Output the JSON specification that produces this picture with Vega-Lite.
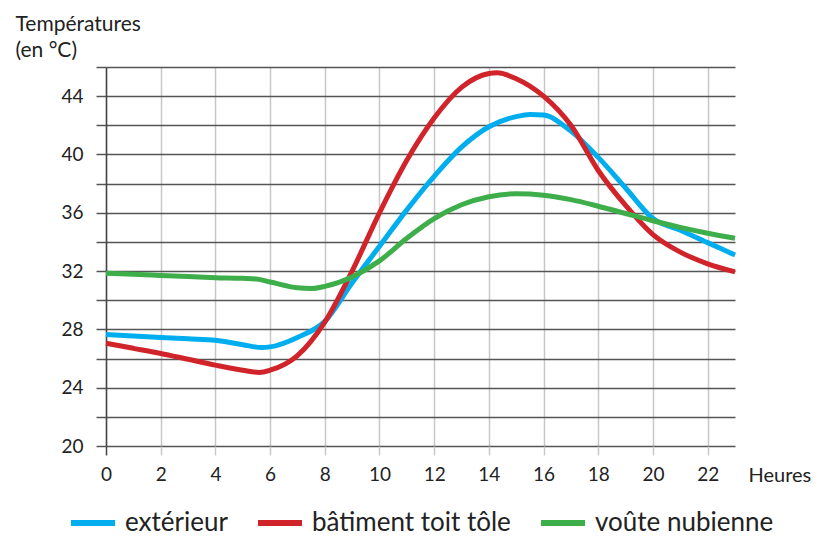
{
  "$schema": "https://vega.github.io/schema/vega-lite/v6.json",
  "width": 629,
  "height": 379,
  "autosize": {"type": "none"},
  "padding": {"left": 106, "top": 67, "right": 84, "bottom": 90},
  "background": "white",
  "config": {
    "view": {"stroke": null},
    "font": "Lato",
    "axis": {"labelFont": "Lato", "titleFont": "Lato", "labelColor": "#222", "titleColor": "#222"}
  },
  "data": {
    "values": [
      {"h": 0, "t": 27.65, "s": "extérieur"},
      {"h": 1, "t": 27.55, "s": "extérieur"},
      {"h": 2, "t": 27.45, "s": "extérieur"},
      {"h": 3, "t": 27.35, "s": "extérieur"},
      {"h": 4, "t": 27.25, "s": "extérieur"},
      {"h": 5, "t": 26.95, "s": "extérieur"},
      {"h": 5.7, "t": 26.75, "s": "extérieur"},
      {"h": 6, "t": 26.8, "s": "extérieur"},
      {"h": 7, "t": 27.45, "s": "extérieur"},
      {"h": 8, "t": 28.55, "s": "extérieur"},
      {"h": 9, "t": 31.2, "s": "extérieur"},
      {"h": 10, "t": 33.7, "s": "extérieur"},
      {"h": 11, "t": 36.2, "s": "extérieur"},
      {"h": 12, "t": 38.5, "s": "extérieur"},
      {"h": 13, "t": 40.5, "s": "extérieur"},
      {"h": 14, "t": 41.9, "s": "extérieur"},
      {"h": 15, "t": 42.6, "s": "extérieur"},
      {"h": 15.5, "t": 42.75, "s": "extérieur"},
      {"h": 16, "t": 42.7, "s": "extérieur"},
      {"h": 17, "t": 41.6, "s": "extérieur"},
      {"h": 18, "t": 39.8, "s": "extérieur"},
      {"h": 19, "t": 37.7, "s": "extérieur"},
      {"h": 20, "t": 35.6, "s": "extérieur"},
      {"h": 21, "t": 34.8, "s": "extérieur"},
      {"h": 22, "t": 33.95, "s": "extérieur"},
      {"h": 23, "t": 33.1, "s": "extérieur"},
      {"h": 0, "t": 27.05, "s": "bâtiment toit tôle"},
      {"h": 1, "t": 26.7, "s": "bâtiment toit tôle"},
      {"h": 2, "t": 26.35, "s": "bâtiment toit tôle"},
      {"h": 3, "t": 25.95, "s": "bâtiment toit tôle"},
      {"h": 4, "t": 25.55, "s": "bâtiment toit tôle"},
      {"h": 5, "t": 25.2, "s": "bâtiment toit tôle"},
      {"h": 5.6, "t": 25.05, "s": "bâtiment toit tôle"},
      {"h": 6, "t": 25.2, "s": "bâtiment toit tôle"},
      {"h": 7, "t": 26.2, "s": "bâtiment toit tôle"},
      {"h": 8, "t": 28.5, "s": "bâtiment toit tôle"},
      {"h": 9, "t": 32.0, "s": "bâtiment toit tôle"},
      {"h": 10, "t": 36.0, "s": "bâtiment toit tôle"},
      {"h": 11, "t": 39.6, "s": "bâtiment toit tôle"},
      {"h": 12, "t": 42.5, "s": "bâtiment toit tôle"},
      {"h": 13, "t": 44.6, "s": "bâtiment toit tôle"},
      {"h": 14, "t": 45.55, "s": "bâtiment toit tôle"},
      {"h": 14.3, "t": 45.6, "s": "bâtiment toit tôle"},
      {"h": 15, "t": 45.2, "s": "bâtiment toit tôle"},
      {"h": 16, "t": 44.0, "s": "bâtiment toit tôle"},
      {"h": 17, "t": 42.0, "s": "bâtiment toit tôle"},
      {"h": 18, "t": 38.9, "s": "bâtiment toit tôle"},
      {"h": 19, "t": 36.5, "s": "bâtiment toit tôle"},
      {"h": 20, "t": 34.5, "s": "bâtiment toit tôle"},
      {"h": 21, "t": 33.3, "s": "bâtiment toit tôle"},
      {"h": 22, "t": 32.5, "s": "bâtiment toit tôle"},
      {"h": 23, "t": 31.95, "s": "bâtiment toit tôle"},
      {"h": 0, "t": 31.85, "s": "voûte nubienne"},
      {"h": 1, "t": 31.78, "s": "voûte nubienne"},
      {"h": 2, "t": 31.7, "s": "voûte nubienne"},
      {"h": 3, "t": 31.62, "s": "voûte nubienne"},
      {"h": 4, "t": 31.55, "s": "voûte nubienne"},
      {"h": 5, "t": 31.5, "s": "voûte nubienne"},
      {"h": 5.5, "t": 31.45, "s": "voûte nubienne"},
      {"h": 6, "t": 31.25, "s": "voûte nubienne"},
      {"h": 7, "t": 30.85, "s": "voûte nubienne"},
      {"h": 7.5, "t": 30.8, "s": "voûte nubienne"},
      {"h": 8, "t": 30.95, "s": "voûte nubienne"},
      {"h": 9, "t": 31.6, "s": "voûte nubienne"},
      {"h": 10, "t": 32.7, "s": "voûte nubienne"},
      {"h": 11, "t": 34.25, "s": "voûte nubienne"},
      {"h": 12, "t": 35.6, "s": "voûte nubienne"},
      {"h": 13, "t": 36.55, "s": "voûte nubienne"},
      {"h": 14, "t": 37.1, "s": "voûte nubienne"},
      {"h": 15, "t": 37.3, "s": "voûte nubienne"},
      {"h": 16, "t": 37.2, "s": "voûte nubienne"},
      {"h": 17, "t": 36.9, "s": "voûte nubienne"},
      {"h": 18, "t": 36.45, "s": "voûte nubienne"},
      {"h": 19, "t": 35.95, "s": "voûte nubienne"},
      {"h": 20, "t": 35.45, "s": "voûte nubienne"},
      {"h": 21, "t": 35.0, "s": "voûte nubienne"},
      {"h": 22, "t": 34.6, "s": "voûte nubienne"},
      {"h": 23, "t": 34.25, "s": "voûte nubienne"}
    ]
  },
  "mark": {"type": "line", "interpolate": "monotone", "strokeWidth": 5, "strokeCap": "butt"},
  "encoding": {
    "x": {
      "field": "h", "type": "quantitative",
      "scale": {"domain": [0, 23], "nice": false, "zero": false},
      "axis": {
        "values": [0, 2, 4, 6, 8, 10, 12, 14, 16, 18, 20, 22],
        "grid": true, "gridColor": "#c8c8c8", "gridWidth": 1.5,
        "domain": false,
        "tickSize": 9, "tickWidth": 1.5,
        "tickColor": {"condition": {"test": "datum.value == 0", "value": "#444"}, "value": "#c8c8c8"},
        "labelFontSize": 19, "labelPadding": 10, "labelFlush": false,
        "title": "Heures", "titleFontSize": 20, "titleFontWeight": "normal",
        "titleAnchor": "start", "titleAlign": "left", "titleBaseline": "middle",
        "titleX": 642, "titleY": 29
      }
    },
    "y": {
      "field": "t", "type": "quantitative",
      "scale": {"domain": [20, 46], "nice": false, "zero": false},
      "axis": {
        "values": [20, 22, 24, 26, 28, 30, 32, 34, 36, 38, 40, 42, 44, 46],
        "labelExpr": "datum.value % 4 == 0 ? datum.label : ''",
        "grid": true, "gridColor": "#555", "gridWidth": 1.5,
        "domain": true, "domainColor": "#444", "domainWidth": 1.5,
        "tickSize": 10, "tickWidth": 1.5, "tickColor": "#555",
        "labelFontSize": 19, "labelPadding": 13,
        "title": ["Températures", "(en °C)"], "titleFontSize": 21, "titleFontWeight": "normal",
        "titleAngle": 0, "titleAlign": "left", "titleBaseline": "alphabetic",
        "titleX": -91, "titleY": -37, "titleLineHeight": 26
      }
    },
    "color": {
      "field": "s", "type": "nominal",
      "scale": {
        "domain": ["extérieur", "bâtiment toit tôle", "voûte nubienne"],
        "range": ["#00AEEF", "#D1232A", "#3DAE4A"]
      },
      "legend": {
        "orient": "none", "legendX": -38, "legendY": 431,
        "direction": "horizontal", "title": null,
        "symbolType": "stroke", "symbolStrokeWidth": 6, "symbolSize": 1936,
        "labelFontSize": 26, "labelFont": "Lato", "labelColor": "#222", "labelLimit": 400,
        "columnPadding": 18, "labelOffset": 7
      }
    }
  }
}
